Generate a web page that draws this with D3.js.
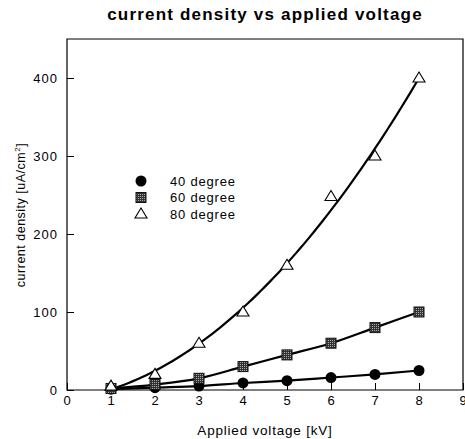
<!DOCTYPE html>
<html>
<head>
<meta charset="utf-8">
<script src="https://cdn.jsdelivr.net/npm/d3@7"></script>
<style>
    body { margin: 0; background: #fff; }
    svg { display: block; font-family: "Liberation Sans", Arial, sans-serif; }
    .tick text { font-size: 13px; letter-spacing: 1px; fill: #000; }
</style>
</head>
<body>
<svg id="chart" width="465" height="439"></svg>
<script>
var voltage = [1, 2, 3, 4, 5, 6, 7, 8];
var deg40 = [1, 3, 5, 9, 12, 16, 20, 25];
var deg60 = [2, 7, 15, 30, 45, 60, 80, 100];
var deg80 = [5, 20, 60, 100, 160, 248, 300, 400];
var seriesNames = ["40 degree", "60 degree", "80 degree"];
var xTicks = [0, 1, 2, 3, 4, 5, 6, 7, 8, 9];
var yTicks = [0, 100, 200, 300, 400];

var svg = d3.select("#chart");
var margin = { left: 67, right: 2, top: 39, bottom: 49 };
var width = 465, height = 439;

var x = d3.scaleLinear().domain([0, 9]).range([margin.left, width - margin.right]);
var y = d3.scaleLinear().domain([0, 450]).range([height - margin.bottom, margin.top]);

// least squares quadratic fit for the 80 degree curve
function quadFit(xs, ys) {
    var s = [0, 0, 0, 0, 0], t = [0, 0, 0];
    xs.forEach(function(xv, i) {
        for (var k = 0; k < 5; k++) s[k] += Math.pow(xv, k);
        for (var j = 0; j < 3; j++) t[j] += ys[i] * Math.pow(xv, j);
    });
    var m = [[s[0], s[1], s[2], t[0]], [s[1], s[2], s[3], t[1]], [s[2], s[3], s[4], t[2]]];
    for (var c = 0; c < 3; c++) {
        for (var r = c + 1; r < 3; r++) {
            var f = m[r][c] / m[c][c];
            for (var q = c; q < 4; q++) m[r][q] -= f * m[c][q];
        }
    }
    var coef = [0, 0, 0];
    for (var r2 = 2; r2 >= 0; r2--) {
        var sum = m[r2][3];
        for (var q2 = r2 + 1; q2 < 3; q2++) sum -= m[r2][q2] * coef[q2];
        coef[r2] = sum / m[r2][r2];
    }
    return function(xv) { return coef[0] + coef[1] * xv + coef[2] * xv * xv; };
}

var fit80 = quadFit(voltage, deg80);
var fitPts = d3.range(1, 8.001, 0.1).map(function(v) { return [v, Math.max(0, fit80(v))]; });

// title
svg.append("text")
    .attr("x", 265).attr("y", 20)
    .attr("text-anchor", "middle")
    .style("font-size", "17px").style("font-weight", "bold").style("letter-spacing", "1.2px")
    .text("current density vs applied voltage");

// axes
var xAxis = svg.append("g")
    .attr("transform", "translate(0," + y(0) + ")")
    .call(d3.axisBottom(x).tickValues(xTicks).tickSize(-7).tickPadding(6).tickFormat(d3.format("d")));
var yAxis = svg.append("g")
    .attr("transform", "translate(" + x(0) + ",0)")
    .call(d3.axisLeft(y).tickValues(yTicks).tickSize(-7).tickPadding(9).tickFormat(d3.format("d")));
[xAxis, yAxis].forEach(function(a) {
    a.select(".domain").remove();
    a.selectAll(".tick line").attr("stroke", "#000").attr("stroke-width", 1);
});
yAxis.selectAll(".tick text").attr("dy", "0.35em");

// frame
svg.append("path")
    .attr("d", "M" + x(0) + "," + y(450) + "V" + y(0) + "H" + x(9) + "V" + y(450) + "Z")
    .attr("fill", "none").attr("stroke", "#000").attr("stroke-width", 1.2);

// axis titles
svg.append("text")
    .attr("x", 265).attr("y", 435)
    .attr("text-anchor", "middle")
    .style("font-size", "13.5px").style("letter-spacing", "0.8px")
    .text("Applied voltage [kV]");
svg.append("text")
    .attr("transform", "translate(25,215) rotate(-90)")
    .attr("text-anchor", "middle")
    .style("font-size", "12.5px").style("letter-spacing", "0.5px")
    .call(function(t) {
        t.append("tspan").text("current density [uA/cm");
        t.append("tspan").attr("dy", -5).style("font-size", "8px").text("2");
        t.append("tspan").attr("dy", 5).text("]");
    });

// pattern for the 60 degree squares
var defs = svg.append("defs");
var pat = defs.append("pattern").attr("id", "dots").attr("width", 2).attr("height", 2)
    .attr("patternUnits", "userSpaceOnUse");
pat.append("rect").attr("width", 2).attr("height", 2).attr("fill", "#333");
pat.append("rect").attr("width", 1).attr("height", 1).attr("fill", "#aaa");

function pairs(vals) { return voltage.map(function(v, i) { return [v, vals[i]]; }); }
function lineGen(curve) {
    return d3.line().x(function(d) { return x(d[0]); }).y(function(d) { return y(d[1]); }).curve(curve);
}

svg.append("path").datum(fitPts).attr("d", lineGen(d3.curveLinear))
    .attr("fill", "none").attr("stroke", "#000").attr("stroke-width", 2.2);
svg.append("path").datum(pairs(deg60)).attr("d", lineGen(d3.curveMonotoneX))
    .attr("fill", "none").attr("stroke", "#000").attr("stroke-width", 2.2);
svg.append("path").datum(pairs(deg40)).attr("d", lineGen(d3.curveMonotoneX))
    .attr("fill", "none").attr("stroke", "#000").attr("stroke-width", 2.2);

function drawMarker(g, kind, cx, cy) {
    if (kind === 0) {
        g.append("circle").attr("cx", cx).attr("cy", cy).attr("r", 5.5).attr("fill", "#000");
    } else if (kind === 1) {
        g.append("rect").attr("x", cx - 5).attr("y", cy - 5).attr("width", 10).attr("height", 10)
            .attr("fill", "url(#dots)").attr("stroke", "#111").attr("stroke-width", 1);
    } else {
        g.append("path")
            .attr("d", "M" + cx + "," + (cy - 6) + "L" + (cx + 6) + "," + (cy + 4) + "L" + (cx - 6) + "," + (cy + 4) + "Z")
            .attr("fill", "#fff").attr("stroke", "#000").attr("stroke-width", 1.1);
    }
}

var marks = svg.append("g");
[deg40, deg60, deg80].forEach(function(vals, k) {
    vals.forEach(function(v, i) { drawMarker(marks, k, x(voltage[i]), y(v)); });
});

// legend
var legend = svg.append("g");
seriesNames.forEach(function(name, k) {
    var ly = 181 + k * 16.5;
    drawMarker(legend, k, 141, ly);
    legend.append("text").attr("x", 170).attr("y", ly + 4.5)
        .style("font-size", "13px").style("letter-spacing", "0.8px").text(name);
});
</script>
</body>
</html>
